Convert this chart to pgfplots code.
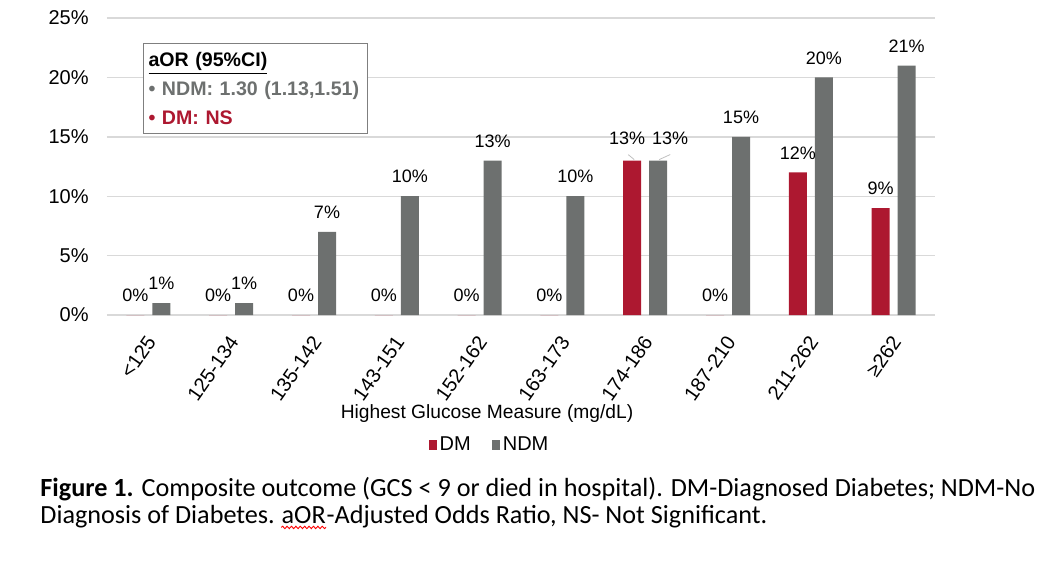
\documentclass[border=0pt]{standalone}
\usepackage{pgfplots}
\pgfplotsset{compat=1.18}
\usepackage{pgfplotstable}
\usepackage{fontspec}
\setmainfont{Liberation Sans}
\newfontfamily\capfont{Carlito}
\usetikzlibrary{decorations.pathmorphing}

\definecolor{dmred}{HTML}{AD1830}
\definecolor{ndmgray}{HTML}{6D706F}
\definecolor{gridgray}{HTML}{D9D9D9}
\definecolor{boxgray}{HTML}{7F7F7F}

% x = category index, dm/ndm = percent, dx/dy = label nudges (pt)
\pgfplotstableread{
x dm ndm dxdm dxndm dy
0 0 1 0 0 0
1 0 1 0 0 0
2 0 7 0 0 0
3 0 10 0 0 0
4 0 13 0 0 0
5 0 10 0 0 0
6 13 13 -2.5 6 1.5
7 0 15 0 0 0
8 12 20 0 0 0
9 9 21 0 0 0
}\glucose

\begin{document}
\begin{tikzpicture}
\path[use as bounding box] (0,0) rectangle (522pt,-282pt);
\begin{axis}[
    at={(53.5pt,-157.5pt)}, anchor=south west,
    scale only axis, width=414pt, height=148.5pt,
    ybar=4pt, bar width=9pt,
    xmin=-0.5, xmax=9.5, ymin=0, ymax=25,
    xtick={0,...,9},
    xticklabels={<125,125-134,135-142,143-151,152-162,163-173,174-186,187-210,211-262,≥262},
    ytick={0,5,...,25},
    yticklabel={\pgfmathprintnumber{\tick}\%},
    /pgf/number format/assume math mode=true,
    axis line style={draw=none},
    ymajorgrids, grid style={gridgray, line width=0.7pt},
    major tick length=0pt,
    tick label style={font=\fontsize{10}{12}\selectfont},
    yticklabel style={inner sep=0pt, xshift=-9pt},
    xticklabel style={inner sep=0pt, xshift=1.5pt, yshift=-11.5pt, rotate=55, anchor=east},
    nodes near coords={\pgfmathprintnumber{\pgfplotspointmeta}\%},
    every node near coord/.append style={font=\fontsize{9}{11}\selectfont, black, yshift=3pt},
    legend columns=2,
    legend style={at={(0.4626,-0.438)}, anchor=center, draw=none, fill=none,
        font=\fontsize{10}{12}\selectfont, inner sep=0pt,
        /tikz/every even column/.append style={column sep=9pt},
        nodes={inner xsep=1.5pt}},
]
\addplot[fill=dmred, draw=none,
    legend image code/.code={\fill[dmred] (0pt,-2.5pt) rectangle (4pt,2.5pt);},
    visualization depends on={\thisrow{dxdm} \as \labdx},
    visualization depends on={\thisrow{dy} \as \labdy},
    every node near coord/.append style={xshift=\labdx pt, yshift=\labdy pt}]
    table[x=x, y=dm] {\glucose};
\addlegendentry{DM}
\addplot[fill=ndmgray, draw=none,
    legend image code/.code={\fill[ndmgray] (0pt,-2.5pt) rectangle (4pt,2.5pt);},
    visualization depends on={\thisrow{dxndm} \as \labdx},
    visualization depends on={\thisrow{dy} \as \labdy},
    every node near coord/.append style={xshift=\labdx pt, yshift=\labdy pt}]
    table[x=x, y=ndm] {\glucose};
\addlegendentry{NDM}
% leader lines of the two nudged 13% labels
\draw[gray!50, line width=0.4pt] ([xshift=-8.5pt, yshift=3pt]axis cs:6,13) -- ([xshift=-5.5pt, yshift=0.5pt]axis cs:6,13);
\draw[gray!50, line width=0.4pt] ([xshift=12.5pt, yshift=3pt]axis cs:6,13) -- ([xshift=7pt, yshift=0.5pt]axis cs:6,13);
\end{axis}

\node[draw=boxgray, line width=0.6pt, fill=white, anchor=north west,
    minimum width=112pt, minimum height=45pt, text width=107pt, inner xsep=2.5pt,
    align=left, font=\bfseries\fontsize{9.8}{14.5}\selectfont]
    at (71.5pt,-21.5pt)
    {\underline{aOR (95\%CI)}\\
     \textcolor{ndmgray}{\textbullet\ NDM: 1.30 (1.13,1.51)}\\
     \textcolor{dmred}{\textbullet\ DM: NS}};

\node[font=\fontsize{9.6}{12}\selectfont] at (243.5pt,-207pt)
    {Highest Glucose Measure (mg/dL)};

\begin{scope}[every node/.style={anchor=base west, inner sep=0pt, font=\capfont\fontsize{13.1}{15}\selectfont}]
\node at (20pt,-248pt)
    {\textbf{Figure 1.} Composite outcome (GCS < 9 or died in hospital). DM-Diagnosed Diabetes; NDM-No};
\node (c1) at (20pt,-261.5pt) {Diagnosis of Diabetes.};
\node[xshift=3pt] (aor) at (c1.base east) {aOR};
\node at (aor.base east) {-Adjusted Odds Ratio, NS- Not Significant.};
\end{scope}
\draw[red, line width=0.45pt, decorate, decoration={snake, amplitude=0.6pt, segment length=2.2pt}]
    ([yshift=-2.2pt]aor.base west) -- ([yshift=-2.2pt]aor.base east);
\end{tikzpicture}
\end{document}
